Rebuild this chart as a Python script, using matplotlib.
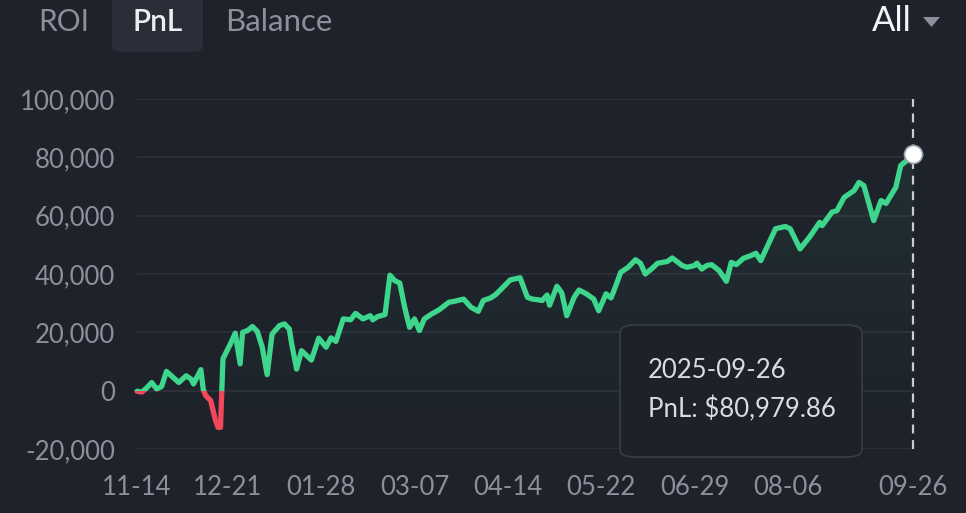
import matplotlib
matplotlib.use("Agg")
import matplotlib.pyplot as plt
import matplotlib.dates as mdates
import numpy as np
from matplotlib.patches import Rectangle, FancyBboxPatch, Polygon
from matplotlib.colors import LinearSegmentedColormap

BG = "#1e222b"
GRID = "#2c303a"
TICK = "#8b909a"
GREEN = "#3dd68c"
RED = "#f0475a"

start = np.datetime64("2024-11-14")
# day offsets from start and cumulative PnL
days = [0, 2, 4, 6, 8, 10, 12, 15, 17, 20, 22, 23, 26, 27, 28, 30, 32, 33, 34,
        35, 38, 40, 42, 43, 45, 47, 49, 51, 53, 55, 58, 60, 62, 63, 65, 67, 71,
        74, 77, 79, 81, 84, 87, 89, 92, 95, 96, 98, 101, 103, 105, 107, 109,
        111, 113, 115, 117, 120, 123, 127, 129, 133, 136, 139, 141, 144, 146,
        149, 152, 156, 159, 161, 163, 165, 167, 168, 171, 173, 175, 178, 180,
        183, 186, 188, 191, 193, 194, 197, 200, 203, 205, 207, 210, 212, 216,
        218, 222, 224, 227, 228, 230, 232, 234, 237, 240, 242, 244, 247, 250,
        252, 254, 260, 264, 266, 270, 274, 278, 279, 283, 285, 288, 292, 294,
        296, 300, 303, 305, 309, 311, 313, 316]
pnl = [-200, -500, 1000, 2800, 600, 1400, 6600, 4300, 2800, 5100, 4000, 2300,
       7200, 300, -1700, -3400, -10300, -12600, -12600,
       10900, 16000, 19700, 9200, 20000, 20600, 22000, 20300, 14900, 5500,
       19400, 22300, 22900, 21200, 16000, 7400, 13700, 10500,
       18000, 14900, 18100, 16900, 24600, 24300, 26500, 24600, 25700, 24300,
       25400, 26100, 39600, 37700, 36900, 28600,
       21700, 24600, 20600, 24600, 26300, 27700, 30300, 30600, 31400, 28600,
       27200, 30900, 31800, 32900, 35400, 38000, 38700, 32000, 31400, 31200,
       30900, 32800, 29300, 35800, 33500, 25700, 32000, 34500,
       33200, 31400, 27400, 33200, 31800, 33800, 40600, 42300, 44900, 43700,
       40000, 42100, 43700, 44300, 45500, 42900, 42300, 42900, 43700, 41700,
       42900, 43200, 41200, 37500, 44000, 43200, 45400, 46300, 47100, 44600,
       55500, 56300, 55500, 48600, 52800, 57700, 56600, 61200, 61700, 66300,
       68600, 71400, 70300, 58300, 65200, 64200, 69700, 77200, 78600, 80979.86]

tick_dates = ["2024-11-14", "2024-12-21", "2025-01-28", "2025-03-07",
              "2025-04-14", "2025-05-22", "2025-06-29", "2025-08-06",
              "2025-09-26"]
y_ticks = [-20000, 0, 20000, 40000, 60000, 80000, 100000]

x = mdates.date2num((start + np.array(days, dtype="timedelta64[D]")).astype("datetime64[s]").astype(object))
y = np.array(pnl, dtype=float)
xt = mdates.date2num([np.datetime64(d).astype("datetime64[s]").astype(object) for d in tick_dates])

plt.rcParams["font.family"] = ["Lato", "DejaVu Sans"]
fig = plt.figure(figsize=(9.66, 5.13), dpi=100, facecolor=BG)
ax = fig.add_axes([137 / 966, 1 - 449 / 513, 776 / 966, 350 / 513], facecolor=BG)

ax.set_xlim(x[0], x[-1])
ax.set_ylim(-20000, 100000)
for s in ax.spines.values():
    s.set_visible(False)

ax.set_yticks(y_ticks)
ax.set_yticklabels([f"{v:,}" for v in y_ticks])
ax.set_xticks(xt)
ax.set_xticklabels([d[5:] for d in tick_dates])
ax.tick_params(axis="both", length=0, colors=TICK, labelsize=18.5)
ax.tick_params(axis="y", pad=16)
ax.tick_params(axis="x", pad=19)
ax.grid(axis="y", color=GRID, lw=1.3)
ax.set_axisbelow(True)

# faint gradient under the line
cmap = LinearSegmentedColormap.from_list("g", [(0.24, 0.84, 0.55, 0.0), (0.24, 0.84, 0.55, 0.09)])
grad = np.linspace(0, 1, 256).reshape(-1, 1)
im = ax.imshow(grad, extent=[x[0], x[-1], -20000, 100000], origin="lower",
               aspect="auto", cmap=cmap, zorder=1)
poly = Polygon(np.column_stack([np.r_[x, x[-1], x[0]], np.r_[y, -20000, -20000]]),
               closed=True, transform=ax.transData, facecolor="none", edgecolor="none")
ax.add_patch(poly)
im.set_clip_path(poly)

# line: green above zero, red below
big = 1e7
for color, rect in [(GREEN, (x[0] - 10, 0, 1000, big)), (RED, (x[0] - 10, -big, 1000, big))]:
    ln, = ax.plot(x, y, color=color, lw=3.8, solid_joinstyle="round",
                  solid_capstyle="round", zorder=3)
    clip = Rectangle(rect[:2], rect[2], rect[3], transform=ax.transData,
                     facecolor="none", edgecolor="none")
    ax.add_patch(clip)
    ln.set_clip_path(clip)

# hover crosshair and end marker
ax.plot([x[-1], x[-1]], [-20000, 100000], color="#c9ccd2", lw=1.6,
        dashes=(4, 3), zorder=4, clip_on=False)
ax.plot(x[-1], y[-1], "o", ms=13, mfc="white", mec="#9aa0aa", mew=1.2,
        zorder=5, clip_on=False)

# tooltip
W, H = 966, 513
tip = FancyBboxPatch((620 / W, 1 - 457 / H), 242 / W, 132 / H,
                     boxstyle="round,pad=0,rounding_size=0.015",
                     transform=fig.transFigure, facecolor="#1d2129",
                     edgecolor="#363b46", lw=1.3, zorder=10)
fig.patches.append(tip)
fig.text(648 / W, 1 - 371 / H, "2025-09-26", color="#d9dbe0", fontsize=18.5,
         va="center", ha="left", zorder=11)
fig.text(648 / W, 1 - 409 / H, f"PnL: ${pnl[-1]:,.2f}", color="#d9dbe0",
         fontsize=18.5, va="center", ha="left", zorder=11)

# tabs header
tab = FancyBboxPatch((112 / W, 1 - 52 / H), 91 / W, 60 / H,
                     boxstyle="round,pad=0,rounding_size=0.012",
                     transform=fig.transFigure, facecolor="#2a2e38",
                     edgecolor="none")
fig.patches.append(tab)
fig.text(64 / W, 1 - 22 / H, "ROI", color=TICK, fontsize=21.5, ha="center", va="center")
fig.text(158 / W, 1 - 22 / H, "PnL", color="#eceef2", fontsize=21.5,
         ha="center", va="center", fontweight="semibold")
fig.text(279 / W, 1 - 22 / H, "Balance", color=TICK, fontsize=22.5, ha="center", va="center")
fig.text(912 / W, 1 - 21 / H, "All", color="#f2f3f5", fontsize=25, ha="right", va="center")
fig.patches.append(Polygon([(923 / W, 1 - 17 / H), (940 / W, 1 - 17 / H), (931.5 / W, 1 - 27 / H)],
                           closed=True, transform=fig.transFigure,
                           facecolor=TICK, edgecolor="none"))

fig.savefig("out.png", dpi=100, facecolor=BG)
